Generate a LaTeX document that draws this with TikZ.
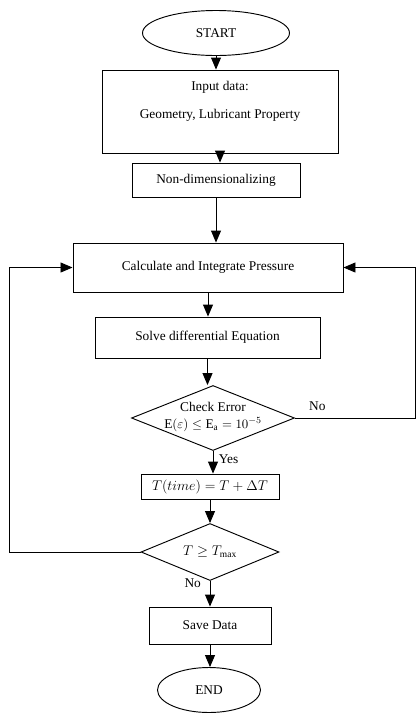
\documentclass[tikz,border=0pt]{standalone}
\usepackage{fontspec}
\setmainfont{Liberation Serif}
\usetikzlibrary{shapes,arrows.meta,positioning}

\begin{document}
\begin{tikzpicture}[
    x=0.03cm, y=-0.03cm,
    font=\fontsize{11.4}{13.5}\selectfont,
    box/.style={rectangle, draw, line width=0.8pt, inner sep=2pt},
    term/.style={ellipse, draw, line width=0.8pt, minimum width=3.09cm, minimum height=1.35cm},
    decide/.style={diamond, draw, line width=0.8pt, inner sep=0pt},
    flow/.style={-{Triangle[length=3.6mm,width=3mm]}, line width=0.8pt},
    loop/.style={flow},
    lbl/.style={font=\fontsize{11.4}{13.5}\selectfont},
]
\useasboundingbox (0,0) rectangle (416,715);

% Main column
\node[term, minimum width=4.41cm] (start) at (216,33) {START};
\node[box, minimum width=7.08cm, minimum height=2.49cm,
    label={[align=center, yshift=0.3cm]center:Input data:\\[10pt] Geometry, Lubricant Property}]
    (input) at (220,111.5) {};
\node[box, minimum width=5.04cm, minimum height=1.02cm] (nondim) at (216,180) {Non-dimensionalizing};
\node[box, minimum width=8.1cm, minimum height=1.47cm] (calc) at (208,267.5) {Calculate and Integrate Pressure};
\node[box, minimum width=6.75cm, minimum height=1.23cm] (solve) at (207.5,337.5) {Solve differential Equation};
\node[decide, minimum width=4.89cm, minimum height=1.95cm,
    label={[align=center, inner sep=0pt, yshift=1pt]center:Check Error\\[1pt] $\mathrm{E}(\varepsilon)\le \mathrm{E}_{\mathrm{a}} = 10^{-5}$}]
    (check) at (213,418) {};
\node[box, minimum width=4.14cm, minimum height=0.75cm, font=\fontsize{12}{14}\selectfont] (tstep) at (210,486.5)
    {$T(time) = T + \Delta T$};
\node[decide, minimum width=4.14cm, minimum height=1.71cm,
    label={[font=\fontsize{11.5}{14}\selectfont]center:$T \ge T_{\max}$}] (tmax) at (210,552) {};
\node[box, minimum width=3.66cm, minimum height=1.11cm] (save) at (210,625.5) {Save Data};
\node[term] (end) at (209,690) {END};

% Straight arrows
\draw[flow] (start.south) -- (start.south |- input.north);
\draw[flow] (input.south) -- (input.south |- nondim.north);
\draw[flow] (nondim.south) -- (nondim.south |- calc.north);
\draw[flow] (calc.south) -- (calc.south |- solve.north);
\draw[flow] (solve.south) -- (solve.south |- check.north);
\draw[flow] (check.south) -- (check.south |- tstep.north);
\draw[flow] (tstep.south) -- (tstep.south |- tmax.north);
\draw[flow] (tmax.south) -- (tmax.south |- save.north);
\draw[flow] (save.south) -- (save.south |- end.north);

% Loops back to pressure
\coordinate (rc) at (415,418);
\coordinate (lc) at (9,552);
\draw[loop] (check.east) -- (rc) |- (calc.east);
\draw[loop] (tmax.west) -- (lc) |- (calc.west);

% Branch labels
\node[lbl, above right=0.1cm and 0.3cm of check.east] (no1) {No};
\node[lbl, below right=0cm and 0.05cm of check.south] (yes) {Yes};
\node[lbl, below left=-0.2cm and 0.15cm of tmax.south] (no2) {No};

\end{tikzpicture}
\end{document}
